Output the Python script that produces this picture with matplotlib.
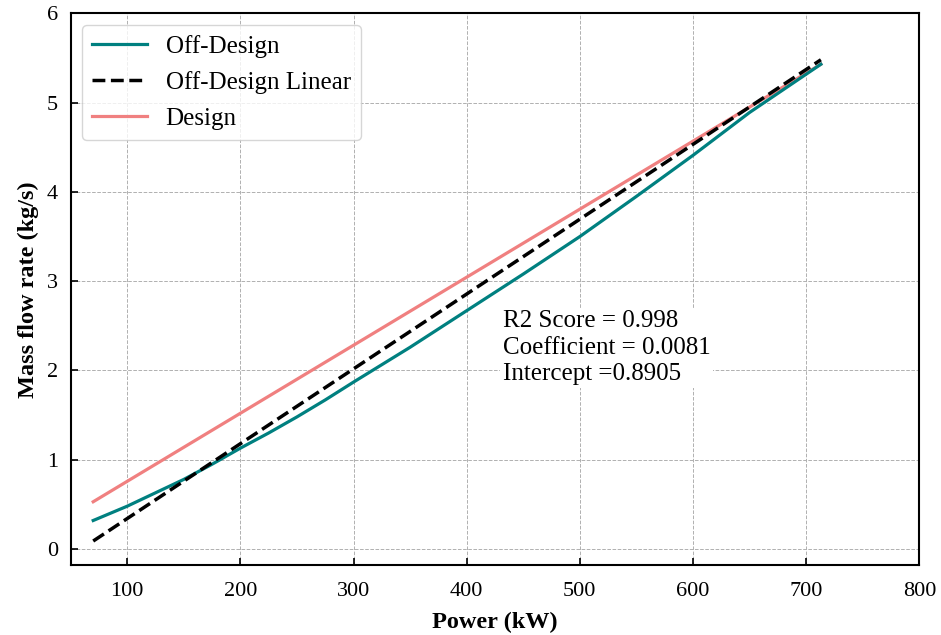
import matplotlib
matplotlib.use("Agg")
import matplotlib.pyplot as plt

plt.rcParams['font.family'] = ['Liberation Serif', 'DejaVu Serif']

power_off = [70, 85, 100, 125, 150, 175, 200, 225, 250, 275, 300, 350, 400, 450, 500, 550, 600, 650, 713]
flow_off = [0.32, 0.40, 0.48, 0.63, 0.78, 0.95, 1.13, 1.30, 1.48, 1.67, 1.87, 2.26, 2.67, 3.08, 3.50, 3.95, 4.41, 4.89, 5.43]

power_lin = [70, 713]
flow_lin = [0.09, 5.48]

power_design = [70, 713]
flow_design = [0.53, 5.43]

annot = "R2 Score = 0.998\nCoefficient = 0.0081\nIntercept =0.8905"

fig, ax = plt.subplots(figsize=(9.41, 6.35), dpi=100)
fig.subplots_adjust(left=0.075, right=0.977, top=0.979, bottom=0.11)

ax.plot(power_off, flow_off, color='#008080', lw=2.3, label='Off-Design', zorder=3)
ax.plot(power_lin, flow_lin, color='black', lw=2.5, ls='--', label='Off-Design Linear', zorder=4)
ax.plot(power_design, flow_design, color='#F08080', lw=2.3, label='Design', zorder=2)

ax.set_xlim(50, 800)
ax.set_ylim(-0.18, 6)
ax.set_xticks([100, 200, 300, 400, 500, 600, 700, 800])
ax.set_yticks([0, 1, 2, 3, 4, 5, 6])
ax.tick_params(direction='in', labelsize=16, length=5, width=1.2)
ax.tick_params(axis='x', pad=12)
ax.tick_params(axis='y', pad=9)
ax.grid(True, ls='--', color='#b0b0b0', lw=0.7)
for s in ax.spines.values():
    s.set_linewidth(1.5)

ax.set_xlabel('Power (kW)', fontsize=17.5, fontweight='bold', labelpad=8)
ax.set_ylabel('Mass flow rate (kg/s)', fontsize=17.5, fontweight='bold', labelpad=6)

ax.text(432, 2.255, annot, fontsize=18, va='center', ha='left', linespacing=1.25,
        bbox=dict(facecolor='white', edgecolor='none', pad=2), zorder=5)

leg = ax.legend(loc='upper left', fontsize=18, frameon=True, handlelength=2.2,
                handletextpad=0.75, labelspacing=0.53, borderaxespad=0.45)
leg.get_frame().set_edgecolor('#cccccc')

fig.savefig('out.png', dpi=100)
